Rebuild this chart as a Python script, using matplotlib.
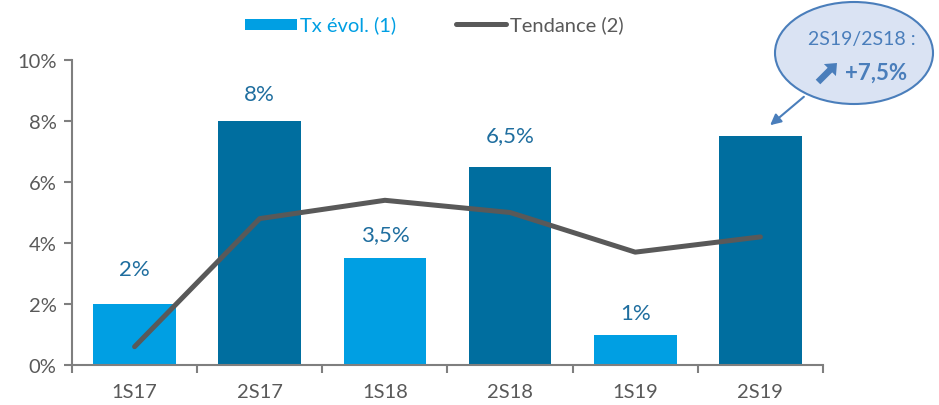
import matplotlib
matplotlib.use("Agg")
import matplotlib.pyplot as plt
from matplotlib.patches import Ellipse, Rectangle, FancyArrow
import numpy as np

categories = ["1S17", "2S17", "1S18", "2S18", "1S19", "2S19"]
tx_evol = [2.0, 8.0, 3.5, 6.5, 1.0, 7.5]
tendance = [0.6, 4.8, 5.4, 5.0, 3.7, 4.2]
bar_labels = ["2%", "8%", "3,5%", "6,5%", "1%", ""]
bar_colors = ["#009FE3", "#006E9F", "#009FE3", "#006E9F", "#009FE3", "#006E9F"]
yticks = [0, 2, 4, 6, 8, 10]
legend_labels = ["Tx évol. (1)", "Tendance (2)"]

plt.rcParams['font.family'] = ['Lato', 'DejaVu Sans']

fig = plt.figure(figsize=(9.39, 4.06), dpi=100)
ax = fig.add_axes([72/939, 1-366/406, (823-72)/939, (366-61)/406])

x = np.arange(len(categories))
ax.bar(x, tx_evol, width=0.66, color=bar_colors, zorder=2)
ax.plot(x, tendance, color="#595959", lw=3.6, solid_capstyle="round", zorder=3)

offsets = [1.15, 0.9, 0.8, 1.05, 0.7, 0]
for xi, v, lab, off in zip(x, tx_evol, bar_labels, offsets):
    if lab:
        ax.text(xi, v + off, lab, ha="center", va="center", fontsize=16, color="#1F6E9F")

ax.set_xlim(-0.5, len(categories) - 0.5)
ax.set_ylim(0, 10)
ax.set_yticks(yticks)
ax.set_yticklabels([f"{t}%" for t in yticks])
ax.set_xticks(x)
ax.set_xticklabels(categories)
ax.set_xticks(np.arange(-0.5, len(categories)), minor=True)
ax.tick_params(axis="x", which="major", length=0, pad=13, labelsize=14.5, labelcolor="#595959")
ax.tick_params(axis="x", which="minor", length=6, width=1.5, color="#7F7F7F", direction="out")
ax.tick_params(axis="y", length=6, width=1.5, color="#7F7F7F", labelsize=14.5, labelcolor="#595959", pad=5)
for s in ["top", "right"]:
    ax.spines[s].set_visible(False)
for s in ["left", "bottom"]:
    ax.spines[s].set_color("#7F7F7F")
    ax.spines[s].set_linewidth(1.5)

# overlay axes in pixel coords for legend and bubble
fax = fig.add_axes([0, 0, 1, 1], zorder=5)
fax.set_xlim(0, 939)
fax.set_ylim(406, 0)
fax.axis("off")

# legend
fax.add_patch(Rectangle((245, 19.5), 52, 11, facecolor="#009FE3", edgecolor="none"))
fax.text(300, 25, legend_labels[0], ha="left", va="center", fontsize=14.5, color="#009FE3")
fax.plot([456, 506], [25, 25], color="#595959", lw=3.6, solid_capstyle="round")
fax.text(510, 25, legend_labels[1], ha="left", va="center", fontsize=14.5, color="#595959")

# annotation bubble
fax.add_patch(Ellipse((854, 54), 158, 102, facecolor="#DAE3F3", edgecolor="#4A7EBB", lw=1.5))
fax.text(862, 40, "2S19/2S18 :", ha="center", va="center", fontsize=14, color="#4A7EBB")
fax.text(845, 73, "+7,5%", ha="left", va="center", fontsize=16, fontweight="bold", color="#4A7EBB")
fax.add_patch(FancyArrow(818, 83, 19, -19, width=6.5, head_width=17, head_length=10,
                         length_includes_head=True, color="#4A7EBB", lw=0))
fax.annotate("", xy=(768, 128), xytext=(806, 96),
             arrowprops=dict(arrowstyle="-|>", color="#4A7EBB", lw=1.5, mutation_scale=16))

fig.savefig("out.png", dpi=100)
